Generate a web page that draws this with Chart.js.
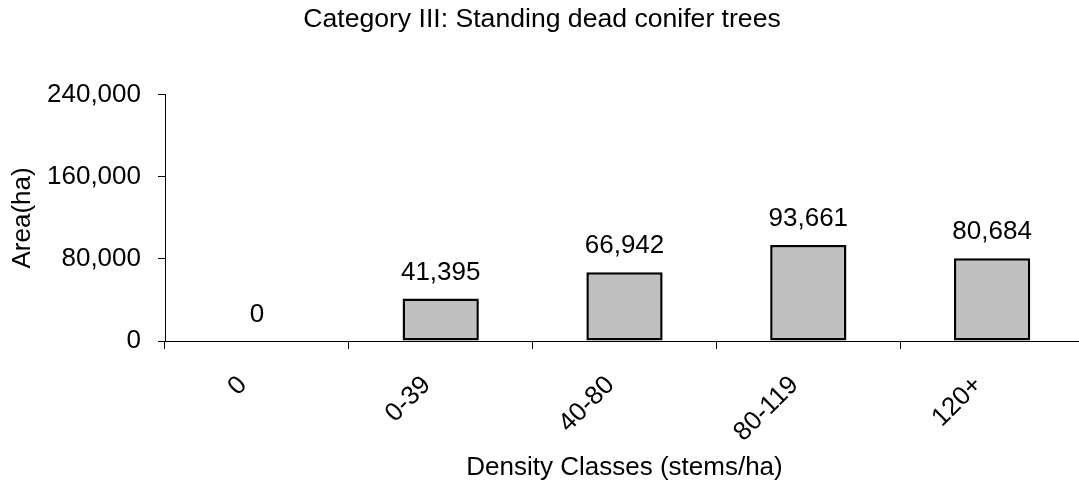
<!DOCTYPE html>
<html><head><meta charset="utf-8">
<script src="https://cdn.jsdelivr.net/npm/chart.js@4"></script>
<style>html,body{margin:0;padding:0;background:#fff;overflow:hidden}#wrap{width:1079px;height:493px;overflow:hidden}canvas{display:block}</style>
</head><body><div id="wrap"><canvas id="c" width="1084" height="493"></canvas></div>
<script>
const categories = ["0", "0-39", "40-80", "80-119", "120+"];
const areaValues = [0, 41395, 66942, 93661, 80684];
const yTickValues = [0, 80000, 160000, 240000];
const chartTitle = "Category III: Standing dead conifer trees";
const xTitle = "Density Classes (stems/ha)";
const yTitle = "Area(ha)";

const FONT = "'Liberation Sans', Arial, sans-serif";
const FS = 26;
const fmt = v => Number(v).toLocaleString('en-US');

const dataLabels = {
  id: 'dataLabels',
  afterDatasetsDraw(chart) {
    const ctx = chart.ctx;
    const meta = chart.getDatasetMeta(0);
    ctx.save();
    ctx.font = FS + "px " + FONT;
    ctx.fillStyle = '#000';
    ctx.textAlign = 'center';
    ctx.textBaseline = 'alphabetic';
    meta.data.forEach((el, i) => {
      ctx.fillText(fmt(areaValues[i]), el.x, el.y - 19);
    });
    ctx.restore();
  }
};

new Chart(document.getElementById('c'), {
  type: 'bar',
  data: {
    labels: categories,
    datasets: [{
      data: areaValues,
      backgroundColor: '#c0c0c0',
      borderColor: '#000',
      borderWidth: 2.5,
      borderSkipped: false,
      barPercentage: 0.415,
      categoryPercentage: 1
    }]
  },
  options: {
    responsive: false,
    animation: false,
    events: [],
    layout: { padding: 0 },
    plugins: {
      legend: { display: false },
      tooltip: { enabled: false },
      title: {
        display: true,
        text: chartTitle,
        color: '#000',
        font: { family: FONT, size: 26.6, weight: 'normal' },
        padding: { top: 4, bottom: 59 }
      }
    },
    scales: {
      x: {
        afterFit(s) { s.height = 152; },
        grid: { display: true, drawOnChartArea: false, offset: true, color: '#000', tickColor: '#000', tickLength: 8 },
        border: { display: true, color: '#000', width: 1 },
        ticks: { color: '#000', font: { family: FONT, size: FS }, minRotation: 45, maxRotation: 45, padding: 21, labelOffset: -14, autoSkip: false },
        title: { display: true, text: xTitle, color: '#000', font: { family: FONT, size: FS }, padding: { top: 0, bottom: 10 } }
      },
      y: {
        min: 0, max: 240000,
        afterFit(s) { s.width = 165; },
        afterBuildTicks(s) { s.ticks = yTickValues.map(v => ({ value: v })); },
        grid: { display: true, drawOnChartArea: false, color: '#000', tickColor: '#000', tickLength: 7 },
        border: { display: true, color: '#000', width: 1 },
        ticks: { color: '#000', font: { family: FONT, size: FS }, padding: 17, callback: v => fmt(v) },
        title: { display: true, text: yTitle, color: '#000', font: { family: FONT, size: FS }, padding: { top: 7, bottom: 0 } }
      }
    }
  },
  plugins: [dataLabels]
});
</script>
</body></html>
